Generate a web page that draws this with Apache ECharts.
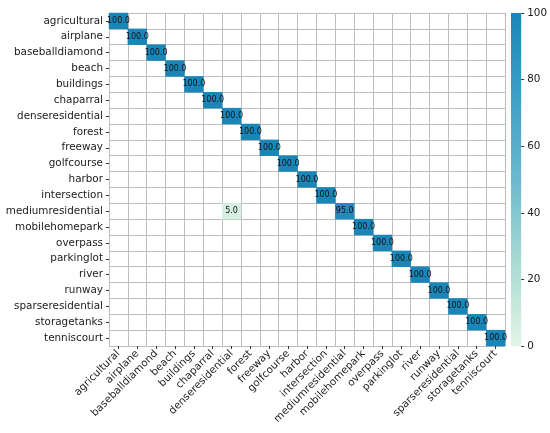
<!DOCTYPE html>
<html>
<head>
<meta charset="utf-8">
<script src="https://cdn.jsdelivr.net/npm/echarts@6/dist/echarts.min.js"></script>
<style>
  html, body { margin: 0; padding: 0; background: #fff; }
  #chart { width: 550px; height: 433px; }
</style>
</head>
<body>
<div id="chart"></div>
<script>
var classes = ['agricultural', 'airplane', 'baseballdiamond', 'beach', 'buildings',
    'chaparral', 'denseresidential', 'forest', 'freeway', 'golfcourse', 'harbor',
    'intersection', 'mediumresidential', 'mobilehomepark', 'overpass', 'parkinglot',
    'river', 'runway', 'sparseresidential', 'storagetanks', 'tenniscourt'];

// per-class accuracy on the diagonal (%)
var diagonal = [100, 100, 100, 100, 100, 100, 100, 100, 100, 100, 100,
    100, 95, 100, 100, 100, 100, 100, 100, 100, 100];

// off-diagonal entries: [true row, predicted column, %]
var offDiagonal = [
    ['mediumresidential', 'denseresidential', 5]
];

var colorbarTicks = [0, 20, 40, 60, 80, 100];
var palette = ['#e2f4e6', '#a9dbd2', '#6bb9cf', '#3d9fc6', '#1a86b8'];

var cells = [];
diagonal.forEach(function(v, i){
    cells.push([i, i, v]);
});
offDiagonal.forEach(function(d){
    cells.push([classes.indexOf(d[1]), classes.indexOf(d[0]), d[2]]);
});

var cbMin = colorbarTicks[0];
var cbMax = colorbarTicks[colorbarTicks.length - 1];

// colorbar gradient, top (max) -> bottom (min)
var stops = palette.slice().reverse().map(function(c, i, arr){
    return { offset: i / (arr.length - 1), color: c };
});

var font = 'DejaVu Sans';
var labelSize = 10.4;
var chart = echarts.init(document.getElementById('chart'));

chart.setOption({
    animation: false,
    backgroundColor: '#fff',
    textStyle: { fontFamily: font },
    grid: [
        { left: 109, right: 45, top: 13, bottom: 87 },
        { left: 511, width: 11, top: 13, bottom: 87 }
    ],
    xAxis: [{
        type: 'category',
        data: classes,
        gridIndex: 0,
        axisLine: { show: false },
        axisTick: { show: true, alignWithLabel: true, length: 3, lineStyle: { color: '#333' } },
        axisLabel: { rotate: 45, fontSize: labelSize, color: '#1a1a1a', margin: 6, interval: 0, fontFamily: font },
        splitLine: { show: true, lineStyle: { color: '#bdbdbd', width: 1 } }
    }, {
        type: 'category',
        data: ['colorbar'],
        gridIndex: 1,
        show: false
    }],
    yAxis: [{
        type: 'category',
        data: classes,
        inverse: true,
        gridIndex: 0,
        axisLine: { show: false },
        axisTick: { show: true, alignWithLabel: true, length: 3, lineStyle: { color: '#333' } },
        axisLabel: { fontSize: labelSize, color: '#1a1a1a', margin: 6, interval: 0, fontFamily: font },
        splitLine: { show: true, lineStyle: { color: '#bdbdbd', width: 1 } }
    }, {
        type: 'value',
        gridIndex: 1,
        position: 'right',
        min: cbMin,
        max: cbMax,
        interval: colorbarTicks[1] - colorbarTicks[0],
        axisLine: { show: false },
        axisTick: { show: true, length: 3, lineStyle: { color: '#333' } },
        axisLabel: { fontSize: labelSize, color: '#1a1a1a', margin: 6, fontFamily: font },
        splitLine: { show: false }
    }],
    visualMap: {
        type: 'continuous',
        show: false,
        min: cbMin,
        max: cbMax,
        seriesIndex: 0,
        inRange: { color: palette }
    },
    series: [{
        type: 'heatmap',
        xAxisIndex: 0,
        yAxisIndex: 0,
        data: cells,
        label: {
            show: true,
            fontSize: 8,
            color: '#111',
            fontFamily: font,
            formatter: function(p){ return p.value[2].toFixed(1); }
        },
        itemStyle: { borderWidth: 0 }
    }, {
        type: 'bar',
        xAxisIndex: 1,
        yAxisIndex: 1,
        data: [cbMax],
        barWidth: '100%',
        silent: true,
        itemStyle: {
            color: new echarts.graphic.LinearGradient(0, 0, 0, 1, stops)
        }
    }]
});
</script>
</body>
</html>
